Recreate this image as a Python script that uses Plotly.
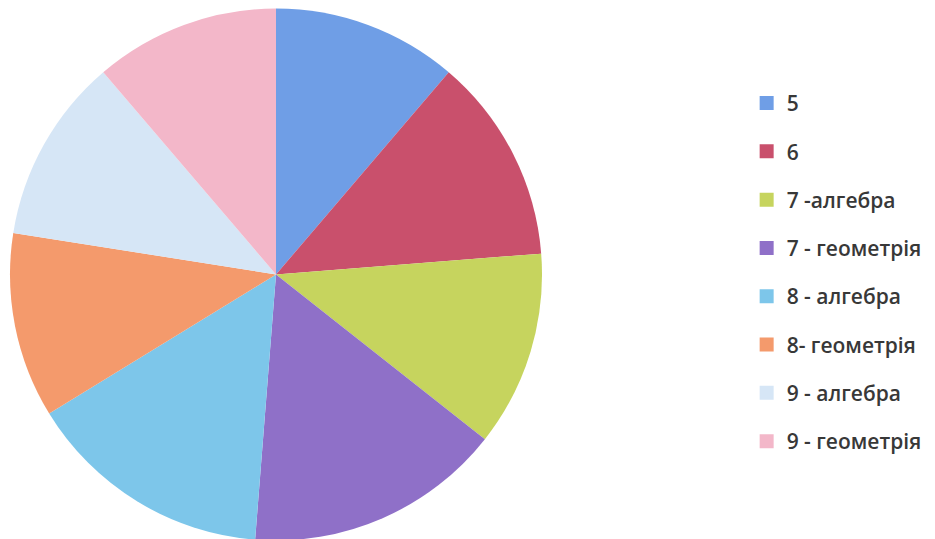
import plotly.graph_objects as go

labels = ["5", "6", "7 -алгебра", "7 - геометрія", "8 - алгебра", "8- геометрія", "9 - алгебра", "9 - геометрія"]
values = [9, 10, 9.5, 12.5, 12, 9, 9, 9]
colors = ["#6f9ee6", "#c9506c", "#c6d45e", "#8f70c8", "#7dc6ea", "#f49a6c", "#d6e6f6", "#f3b7c9"]

fig = go.Figure()
fig.add_trace(go.Pie(
    labels=labels, values=values, sort=False, direction="clockwise", rotation=0,
    marker=dict(colors=colors, line=dict(width=0)),
    textinfo="none", hoverinfo="label+value", showlegend=False,
    domain=dict(x=[2/935, 534/935], y=[6/539, 1]),
))
for lab, col in zip(labels, colors):
    fig.add_trace(go.Scatter(
        x=[None], y=[None], mode="markers", name=lab, legendgroup=lab,
        marker=dict(symbol="square", size=14, color=col),
        showlegend=True,
    ))

fig.update_layout(
    width=935, height=539,
    margin=dict(l=0, r=0, t=0, b=0),
    paper_bgcolor="white", plot_bgcolor="white",
    xaxis=dict(visible=False), yaxis=dict(visible=False),
    font=dict(family="Open Sans", size=21, color="#383838"),
    legend=dict(x=0.79, y=0.861, xanchor="left", yanchor="top",
                tracegroupgap=18, itemwidth=30, bgcolor="rgba(0,0,0,0)",
                font=dict(size=21, weight=600)),
)
fig.write_html("out.html")
